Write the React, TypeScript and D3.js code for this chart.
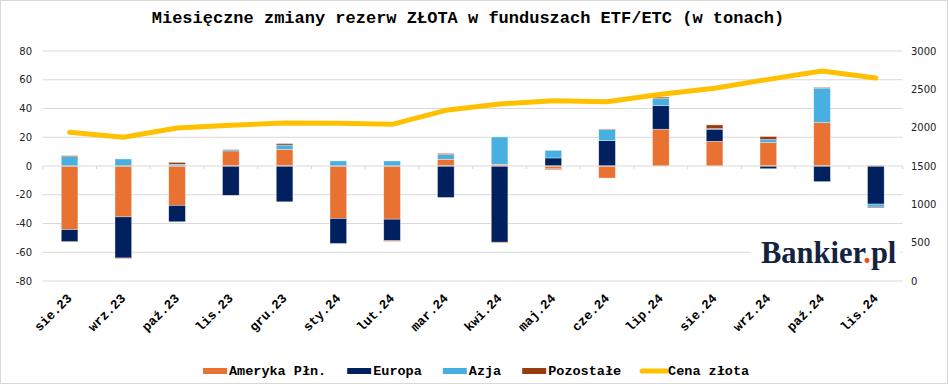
import React from 'react';
import * as d3 from 'd3';

// miesieczne zmiany rezerw zlota w ETF/ETC, tony
const categories = ['sie.23', 'wrz.23', 'paź.23', 'lis.23', 'gru.23', 'sty.24', 'lut.24', 'mar.24', 'kwi.24', 'maj.24', 'cze.24', 'lip.24', 'sie.24', 'wrz.24', 'paź.24', 'lis.24'];
const amerykaPln = [-44.2, -35.4, -27.4, 10.5, 11.6, -36.5, -37.0, 4.7, 1.2, -2.0, -8.4, 25.6, 17.2, 16.3, 30.2, 0.6];
const europa = [-8.4, -28.6, -11.4, -20.5, -24.9, -17.4, -14.9, -21.9, -53.0, 5.6, 17.7, 16.5, 8.4, -1.9, -10.9, -26.5];
const azja = [6.5, 4.9, 1.2, 1.0, 3.0, 3.5, 3.5, 3.3, 19.0, 5.3, 7.7, 4.9, 0.4, 2.1, 24.0, -2.1];
const pozostale = [0.7, -0.3, 1.3, -0.3, 1.0, 0, -0.5, 0.7, -0.5, -0.5, 0.3, 0.9, 2.6, 2.1, 0.5, -0.6];
const cenaZlota = [1939, 1874, 1996, 2030, 2061, 2056, 2043, 2226, 2309, 2352, 2339, 2435, 2513, 2630, 2739, 2648];
const leftTicks = [-80, -60, -40, -20, 0, 20, 40, 60, 80];
const rightTicks = [0, 500, 1000, 1500, 2000, 2500, 3000];

const seriesKeys = ['Ameryka Płn.', 'Europa', 'Azja', 'Pozostałe'];
const seriesColors = ['#E97132', '#002060', '#47B0E1', '#973C0F'];
const lineColor = '#FFC000';

const W = 948;
const H = 384;
const mono = '"Liberation Mono", "Courier New", monospace';
const sans = '"DejaVu Sans", Verdana, sans-serif';

const App = () => {
  const x = d3.scaleBand().domain(categories).range([42.7, 902.7]).padding(0);
  const y = d3.scaleLinear().domain([-80, 80]).range([281, 51]);
  const y2 = d3.scaleLinear().domain([0, 3000]).range([281, 51]);
  const barW = x.bandwidth() * 0.31;

  const rows = categories.map((c, i) => ({
    cat: c,
    'Ameryka Płn.': amerykaPln[i],
    Europa: europa[i],
    Azja: azja[i],
    'Pozostałe': pozostale[i],
  }));
  const stacked = d3.stack().keys(seriesKeys).offset(d3.stackOffsetDiverging)(rows as any);

  const line = d3.line<number>()
    .x((_, i) => (x(categories[i]) as number) + x.bandwidth() / 2)
    .y(d => y2(d));

  // legend layout (monospace, fixed char width)
  const charW = 8.1;
  const legendItems = [...seriesKeys.map((k, i) => ({ label: k, color: seriesColors[i], isLine: false })),
    { label: 'Cena złota', color: lineColor, isLine: true }];
  let lx = 203;
  const legendPos = legendItems.map(it => {
    const p = lx;
    lx += 24 + 2 + it.label.length * charW + 21;
    return p;
  });

  return (
    <svg width={W} height={H} style={{ position: 'absolute', left: 0, top: 0, background: '#fff' }}>
      <rect x={0.5} y={0.5} width={W - 1} height={H - 1} fill="#fff" stroke="#D9D9D9" />
      <text x={468} y={23} textAnchor="middle" fontFamily={mono} fontWeight="bold" fontSize={17} fill="#000">
        Miesięczne zmiany rezerw ZŁOTA w funduszach ETF/ETC (w tonach)
      </text>

      {/* gridlines */}
      {leftTicks.filter(t => t !== 0).map(t => (
        <line key={t} x1={42.7} x2={902.7} y1={y(t)} y2={y(t)} stroke="#D9D9D9" strokeWidth={1} />
      ))}

      {/* logo */}
      <rect x={750} y={234} width={150} height={38} fill="#fff" />
      <text x={761} y={263} fontFamily='"Liberation Serif", "DejaVu Serif", serif' fontWeight="bold" fontSize={30.5} fill="#14233F">
        Bankier<tspan fill="#E8531E">.</tspan>pl
      </text>

      {/* axis labels */}
      {leftTicks.map(t => (
        <text key={t} x={32} y={y(t)} dy="0.35em" textAnchor="end" fontFamily={sans} fontSize={10} fill="#222">
          {t}
        </text>
      ))}
      {rightTicks.map(t => (
        <text key={t} x={911} y={y2(t)} dy="0.35em" textAnchor="start" fontFamily={sans} fontSize={10} fill="#222">
          {t}
        </text>
      ))}

      {/* bars */}
      {stacked.map((s, si) => (
        <g key={s.key} fill={seriesColors[si]}>
          {s.map((d, i) => {
            const top = y(Math.max(d[0], d[1]));
            const bot = y(Math.min(d[0], d[1]));
            if (bot - top <= 0) return null;
            return (
              <rect key={i} x={(x(categories[i]) as number) + (x.bandwidth() - barW) / 2} y={top}
                width={barW} height={bot - top} stroke="#fff" strokeOpacity={0.6} strokeWidth={0.6} />
            );
          })}
        </g>
      ))}

      {/* zero axis and ticks */}
      <line x1={42.7} x2={902.7} y1={y(0)} y2={y(0)} stroke="#D9D9D9" strokeWidth={1} />
      {d3.range(categories.length + 1).map(i => {
        const tx = 42.7 + i * x.bandwidth();
        return <line key={i} x1={tx} x2={tx} y1={y(0)} y2={y(0) + 3} stroke="#D9D9D9" />;
      })}

      {/* gold price */}
      <path d={line(cenaZlota) as string} fill="none" stroke={lineColor} strokeWidth={5} strokeLinejoin="round" strokeLinecap="round" />

      {/* category labels */}
      {categories.map(c => {
        const cx = (x(c) as number) + x.bandwidth() / 2 + 3;
        return (
          <text key={c} transform={`translate(${cx},299) rotate(-45)`} textAnchor="end"
            fontFamily={mono} fontWeight="bold" fontSize={13} fill="#000">
            {c}
          </text>
        );
      })}

      {/* legend */}
      {legendItems.map((it, i) => (
        <g key={it.label} transform={`translate(${legendPos[i]},371)`}>
          {it.isLine
            ? <line x1={0} x2={24} y1={0} y2={0} stroke={it.color} strokeWidth={5} strokeLinecap="round" />
            : <rect x={0} y={-3} width={24} height={6} fill={it.color} />}
          <text x={26} y={0} dy="0.32em" fontFamily={mono} fontWeight="bold" fontSize={13.5} fill="#000">
            {it.label}
          </text>
        </g>
      ))}
    </svg>
  );
};

export default App;
